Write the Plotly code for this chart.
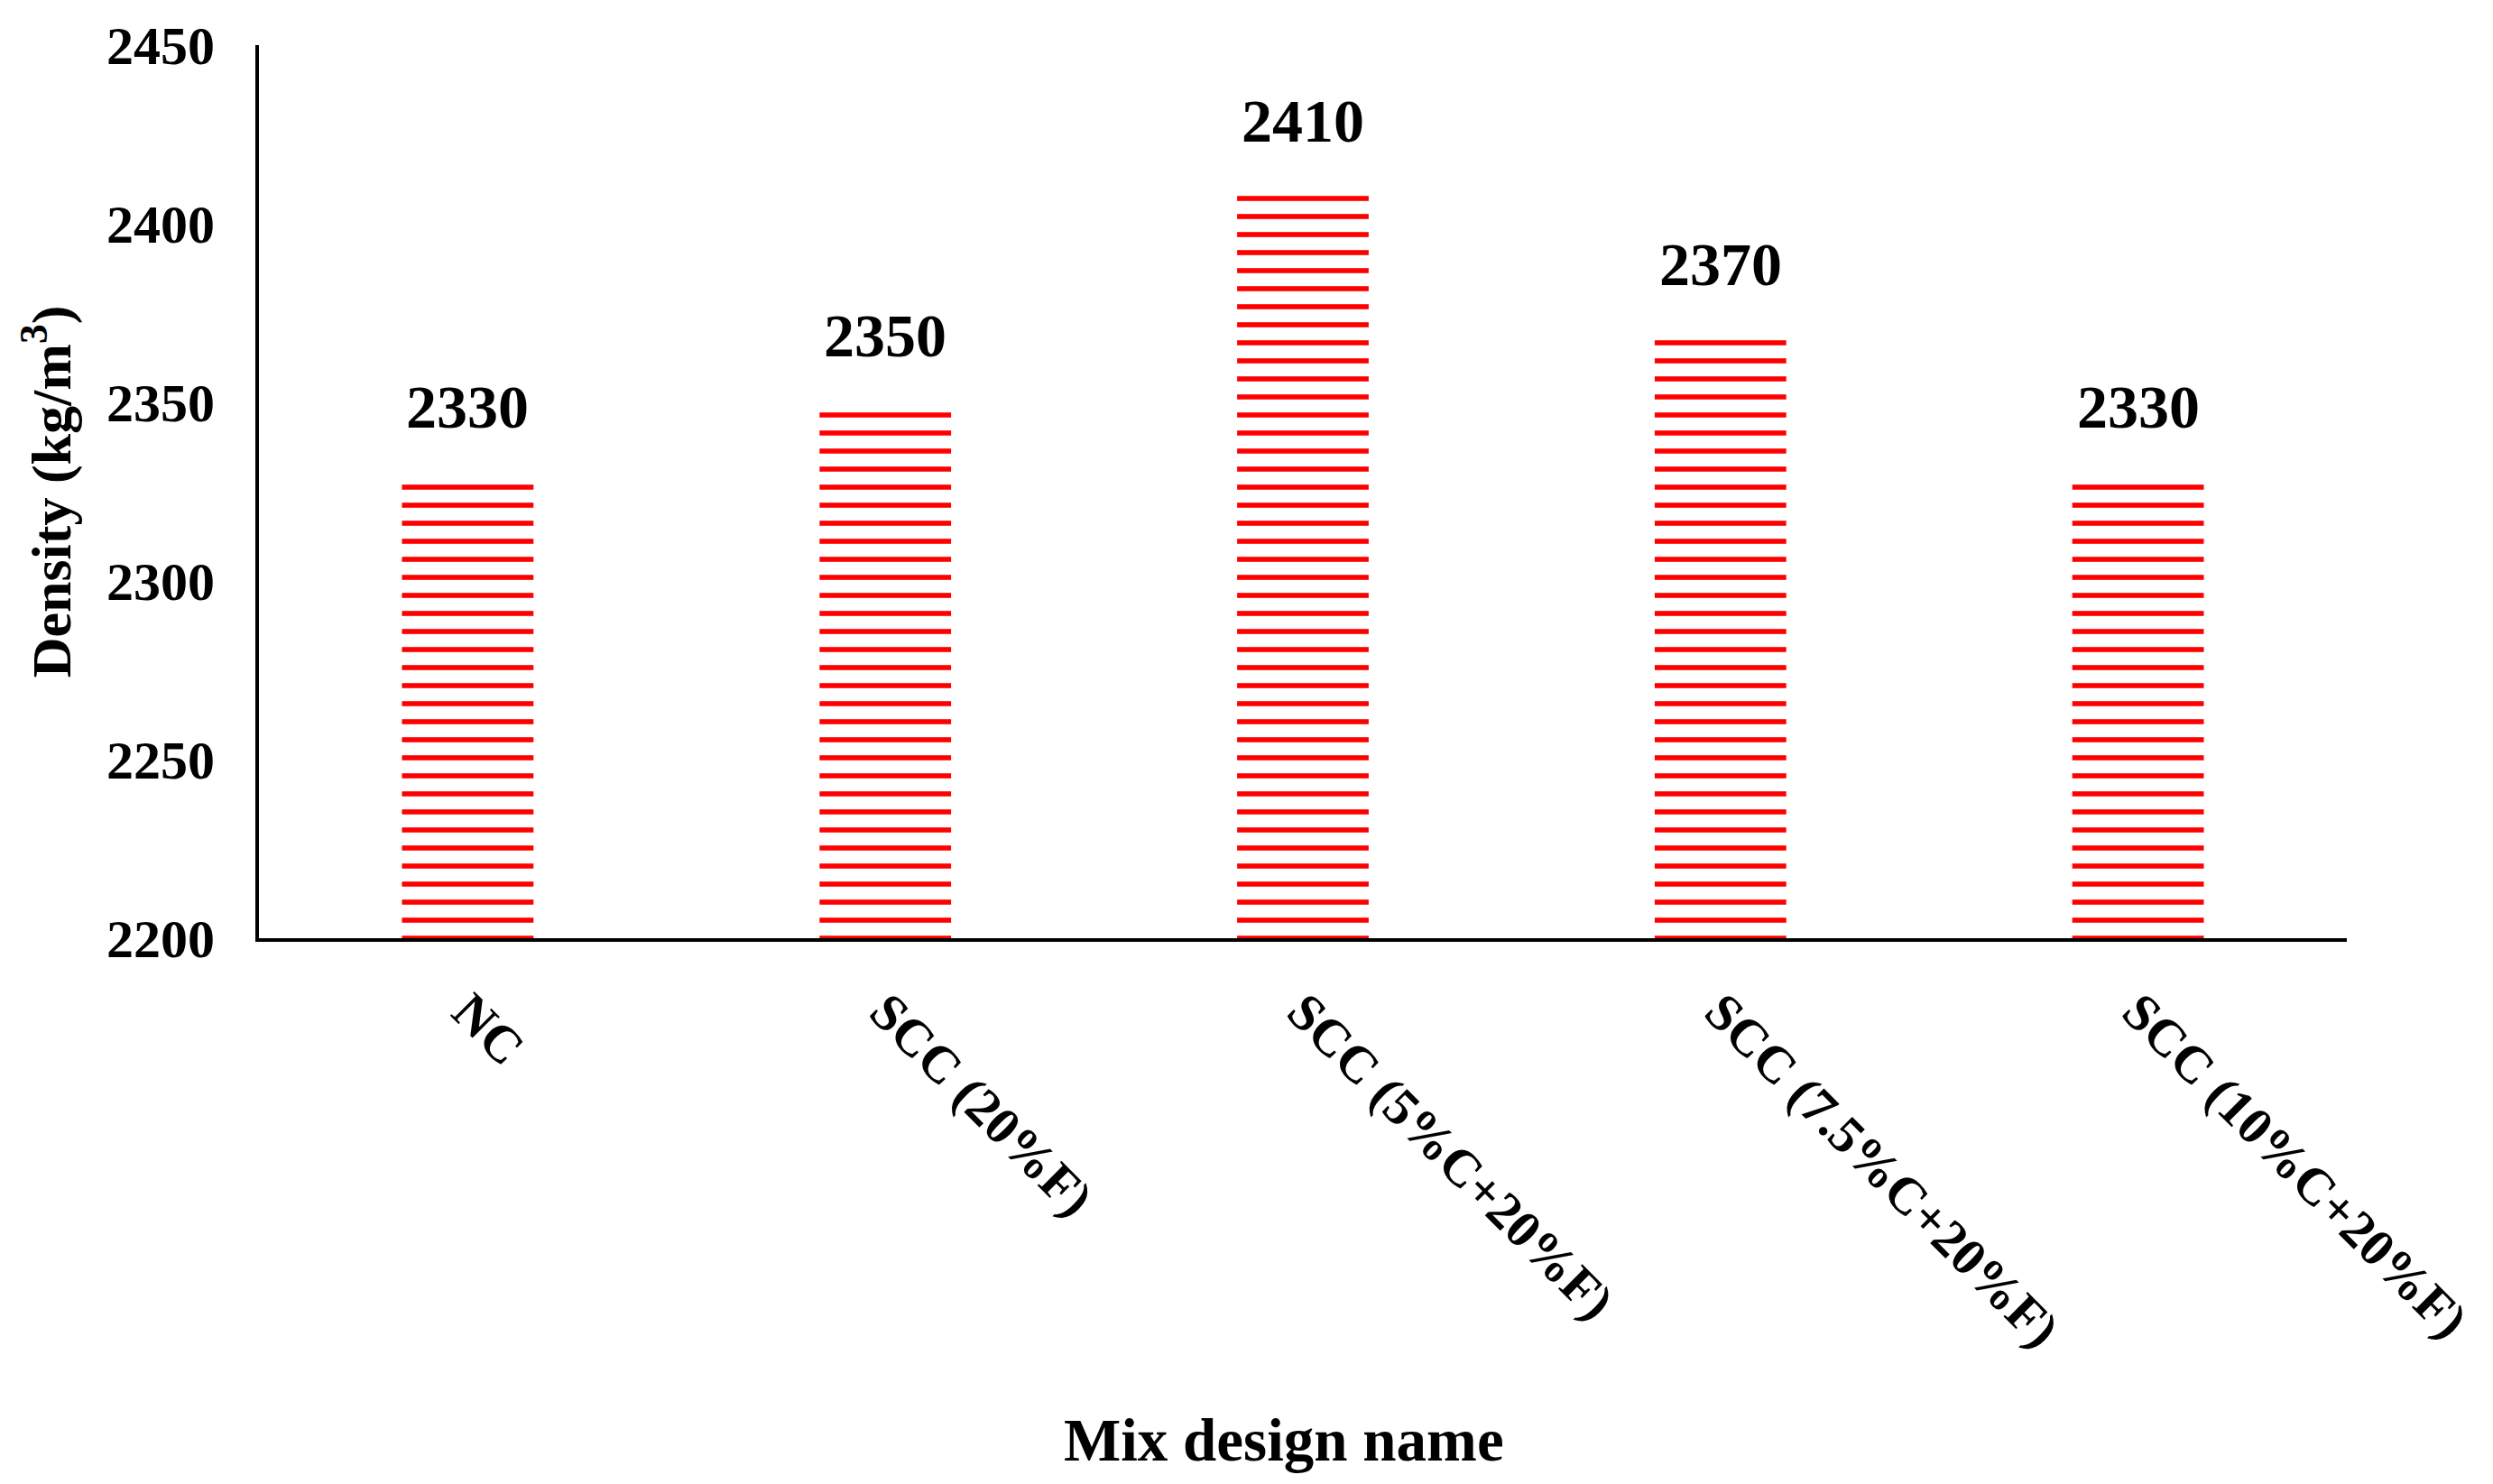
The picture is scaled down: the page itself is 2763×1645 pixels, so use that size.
import plotly.graph_objects as go

# Densidad por mezcla
mixes = ["NC", "SCC (20%F)", "SCC (5%C+20%F)", "SCC (7.5%C+20%F)", "SCC (10%C+20%F)"]
density = [2330, 2350, 2410, 2370, 2330]
y_ticks = [2200, 2250, 2300, 2350, 2400, 2450]

FONT = "Liberation Serif"

fig = go.Figure(
    go.Bar(
        x=mixes,
        y=density,
        marker=dict(
            color="white",
            line=dict(width=0),
            pattern=dict(shape="-", fgcolor="#ff0000", bgcolor="white", fgopacity=1,
                         size=20, solidity=0.28, fillmode="overlay"),
        ),
        hoverinfo="x+y",
    )
)

# etiquetas de valor encima de las barras
for m, d in zip(mixes, density):
    fig.add_annotation(
        x=m, y=d, text=f"<b>{d}</b>", showarrow=False,
        yanchor="bottom", yshift=34,
        font=dict(family=FONT, size=68, color="black"),
    )

# título del eje x (algo desplazado a la izquierda, como en el original)
fig.add_annotation(
    text="<b>Mix design name</b>", showarrow=False,
    xref="paper", x=0.5, xshift=-21,
    yref="paper", y=0, yanchor="middle", yshift=-556,
    font=dict(family=FONT, size=67, color="black"),
)

fig.update_layout(
    width=2763,
    height=1645,
    paper_bgcolor="white",
    plot_bgcolor="white",
    showlegend=False,
    bargap=0.685,
    margin=dict(l=279, r=170, t=42, b=613),
    font=dict(family=FONT, color="black"),
)

fig.update_xaxes(
    showline=True, linecolor="black", linewidth=4,
    showgrid=False, ticks="", tickangle=45,
    tickfont=dict(family=FONT, size=58, color="black"),
    ticklabelstandoff=20,
    tickvals=mixes,
    ticktext=[f"<b>{m}</b>" for m in mixes],
    automargin=False,
)

fig.update_yaxes(
    range=[2200, 2450],
    tickvals=y_ticks,
    ticktext=[f"<b>{t}</b>" for t in y_ticks],
    showline=True, linecolor="black", linewidth=4,
    showgrid=False, zeroline=False, ticks="",
    tickfont=dict(family=FONT, size=60, color="black"),
    ticklabelstandoff=33,
    title=dict(text="<b>Density (kg/m<sup>3</sup>)</b>", font=dict(family=FONT, size=62),
               standoff=20),
    automargin=False,
)

fig.write_html("out.html")
